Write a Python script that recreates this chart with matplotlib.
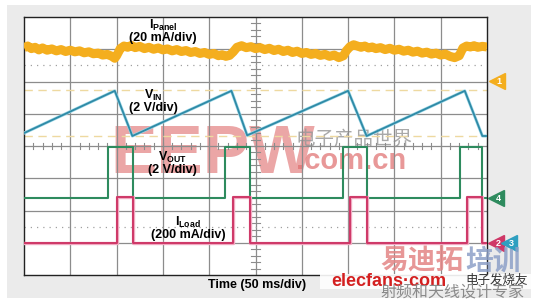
import matplotlib
matplotlib.use("Agg")
import matplotlib.pyplot as plt
from matplotlib.patches import Rectangle

plt.rcParams['font.family'] = ['Liberation Sans', 'Noto Sans CJK SC', 'DejaVu Sans']
plt.rcParams['mathtext.fontset'] = 'custom'
plt.rcParams['mathtext.rm'] = 'Liberation Sans'
plt.rcParams['mathtext.bf'] = 'Liberation Sans:bold'

# ---- data (time in ms, amplitudes in screen divisions) ----
ipanel_t = [0, 4, 8, 12, 16, 20, 25, 30, 35, 40, 45, 50, 55, 60, 65, 70, 75, 80, 85, 90, 95, 98,
            100, 104, 108, 112, 116, 120, 125, 130, 135, 140, 145, 150, 155, 160, 165, 170, 175, 180,
            185, 190, 195, 200, 205, 210, 214, 218, 222, 226, 230, 235, 240, 245, 250, 255, 260, 265,
            270, 275, 280, 285, 290, 295, 300, 305, 310, 315, 320, 325, 330, 335, 340, 345, 348, 352,
            356, 360, 364, 368, 372, 376, 380, 385, 390, 395, 400, 405, 410, 415, 420, 425, 430, 435,
            440, 445, 450, 455, 460, 465, 470, 474, 478, 482, 486, 490, 495, 500]
ipanel_v = [7.05, 7.10, 7.02, 7.06, 6.98, 7.04, 6.97, 7.01, 6.95, 6.99, 6.93, 6.97, 6.92, 6.95, 6.89, 6.92, 6.86, 6.88, 6.82, 6.84, 6.78, 6.72,
            6.80, 7.02, 7.10, 7.06, 7.12, 7.05, 7.09, 7.02, 7.06, 7.00, 7.04, 6.98, 7.01, 6.95, 6.99, 6.93, 6.96, 6.90,
            6.93, 6.87, 6.90, 6.84, 6.87, 6.80, 6.83, 6.78, 6.81, 6.92, 7.06, 7.11, 7.05, 7.08, 7.02, 7.05, 6.99, 7.03,
            6.96, 7.00, 6.93, 6.97, 6.90, 6.94, 6.87, 6.90, 6.84, 6.87, 6.81, 6.84, 6.78, 6.82, 6.74, 6.80, 6.95, 7.08,
            7.14, 7.10, 7.06, 7.10, 7.04, 7.07, 7.02, 7.05, 6.99, 7.03, 6.97, 7.00, 6.94, 6.97, 6.91, 6.94, 6.88, 6.91,
            6.85, 6.88, 6.82, 6.85, 6.78, 6.74, 6.80, 7.04, 7.10, 7.07, 7.11, 7.06, 7.09, 7.07]

vin_t = [0, 98, 117, 224, 241, 350, 370, 476, 495, 500]
vin_v = [4.40, 5.71, 4.31, 5.71, 4.33, 5.71, 4.31, 5.71, 4.31, 4.31]

vout_t = [0, 91, 91, 118, 118, 217, 217, 244, 244, 344, 344, 370, 370, 471, 471, 495, 495, 500]
vout_v = [2.39, 2.39, 3.97, 3.97, 2.39, 2.39, 3.97, 3.97, 2.39, 2.39, 3.97, 3.97, 2.39, 2.39, 3.97, 3.97, 2.39, 2.39]

iload_t = [0, 100, 100, 118, 118, 226, 226, 244, 244, 352, 352, 370, 370, 478, 478, 495, 495, 500]
iload_v = [0.99, 0.99, 2.42, 2.42, 0.99, 0.99, 2.42, 2.42, 0.99, 0.99, 2.42, 2.42, 0.99, 0.99, 2.42, 2.42, 0.99, 0.99]

labels = [r'$\mathbf{I}_{\mathbf{Panel}}$' + '\n(20 mA/div)',
          r'$\mathbf{V}_{\mathbf{IN}}$' + '\n(2 V/div)',
          r'$\mathbf{V}_{\mathbf{OUT}}$' + '\n(2 V/div)',
          r'$\mathbf{I}_{\mathbf{Load}}$' + '\n(200 mA/div)']
x_title = 'Time (50 ms/div)'

c_orange = '#F4AE1E'
c_vin = '#2F8AA6'
c_vout = '#2E8B5E'
c_iload = '#CF3767'

W, H = 534, 301
fig = plt.figure(figsize=(W / 100, H / 100), dpi=100)
fig.patch.set_facecolor('white')

# background axes in pixel coordinates (panel + watermark under traces)
bg = fig.add_axes([0, 0, 1, 1])
bg.set_xlim(0, W)
bg.set_ylim(H, 0)
bg.axis('off')
bg.set_zorder(0)
bg.add_patch(Rectangle((7, 5), 524, 293, facecolor='#EBEBEB', edgecolor='none', zorder=0))
bg.add_patch(Rectangle((24, 17), 463, 258, facecolor='white', edgecolor='none', zorder=0.5))

# main scope axes
L, R, T, B = 24, 487, 17, 275
ax = fig.add_axes([L / W, (H - B) / H, (R - L) / W, (B - T) / H])
ax.set_xlim(0, 500)
ax.set_ylim(0, 8)
ax.set_xticks([])
ax.set_yticks([])
ax.set_zorder(1)
ax.patch.set_alpha(0.0)
for s in ax.spines.values():
    s.set_color('#222222')
    s.set_linewidth(1.0)

gcol = '#8C8C8C'
for i in range(1, 10):
    ax.axvline(i * 50, color=gcol, lw=0.9, zorder=1)
for j in range(1, 8):
    ax.axhline(j, color=gcol, lw=0.9, zorder=1)
# center-line minor ticks
for k in range(0, 51):
    xx = k * 10
    ax.plot([xx, xx], [3.9, 4.1], color=gcol, lw=0.8, zorder=1)
for k in range(0, 41):
    yy = k * 0.2
    ax.plot([245.5, 254.5], [yy, yy], color=gcol, lw=0.8, zorder=1)

# reference lines
ax.axhline(5.74, color='#EED9A0', lw=1.0, ls=(0, (6, 4)), zorder=1)
ax.axhline(4.31, color='#EED9A0', lw=1.0, ls=(0, (6, 4)), zorder=1)
ax.axhline(6.50, color='#A0A0A0', lw=0.9, ls=(0, (1, 4)), zorder=1)
ax.axhline(1.48, color='#A0A0A0', lw=0.9, ls=(0, (1, 4)), zorder=1)

# watermark (EEPW etc.)
bg.text(110, 155, 'EEPW', fontsize=50, fontweight='bold', color='#E07070', alpha=0.62,
        va='center', ha='left', zorder=1)
bg.text(296, 161, '.com.cn', fontsize=21, fontweight='bold', color='#E07070', alpha=0.72,
        va='center', ha='left', zorder=1)
bg.text(296, 139, '电子产品世界', fontsize=14, color='#9A9A9A', alpha=0.85,
        va='center', ha='left', family=['Noto Sans CJK SC'], zorder=1)

# traces
ax.plot(ipanel_t, ipanel_v, color=c_orange, lw=6.5, solid_joinstyle='round',
        solid_capstyle='butt', zorder=3)
ax.plot(vin_t, vin_v, color='#9ED8E8', lw=2.2, zorder=3)
ax.plot(vin_t, vin_v, color=c_vin, lw=1.3, zorder=3)
ax.plot(vout_t, vout_v, color=c_vout, lw=1.5, zorder=3)
ax.plot(iload_t, iload_v, color='#F0A8C0', lw=2.4, zorder=3)
ax.plot(iload_t, iload_v, color=c_iload, lw=1.4, zorder=3)

# overlay for text and markers
overlay = fig.add_axes([0, 0, 1, 1])
overlay.set_xlim(0, W)
overlay.set_ylim(H, 0)
overlay.axis('off')
overlay.set_zorder(2)

lab_xy = [(163, 31), (153, 101), (172, 163), (188, 228)]
for txt, (px, py) in zip(labels, lab_xy):
    overlay.text(px, py, txt, fontsize=9, fontweight='bold', ha='center', va='center',
                 linespacing=0.92)
overlay.text(257, 285, x_title, fontsize=9, fontweight='bold', ha='center', va='center')

# channel markers
def marker(x, y, col, num):
    overlay.plot([x], [y], marker='<', ms=12, color=col, mec=col, clip_on=False)
    overlay.text(x + 2, y + 0.5, num, fontsize=6.5, fontweight='bold', color='white',
                 ha='center', va='center')

marker(497, 81, c_orange, '1')
marker(496, 198, c_vout, '4')
marker(496, 243, c_iload, '2')
marker(509, 243, '#2E9FC0', '3')

# bottom-right watermark
overlay.add_patch(Rectangle((320, 274), 214, 15, facecolor='white', edgecolor='none', alpha=0.9))
overlay.text(380, 262, '易迪拓', fontsize=20, fontweight='bold', color='#E38585', alpha=0.85,
             family=['Noto Sans CJK SC'], ha='left', va='center')
overlay.text(465, 262, '培训', fontsize=20, fontweight='bold', color='#8DA0C8', alpha=0.85,
             family=['Noto Sans CJK SC'], ha='left', va='center')
overlay.text(331, 281, 'elecfans·com', fontsize=13, fontweight='bold', color='#D42020',
             ha='left', va='center')
overlay.text(465, 280, '电子发烧友', fontsize=9, color='#333333', style='italic',
             family=['Noto Sans CJK SC'], ha='left', va='center')
overlay.text(380, 293, '射频和天线设计专家', fontsize=11.5, color='#8A8A8A',
             family=['Noto Sans CJK SC'], ha='left', va='center')

fig.savefig('out.png', dpi=100, facecolor='white')
